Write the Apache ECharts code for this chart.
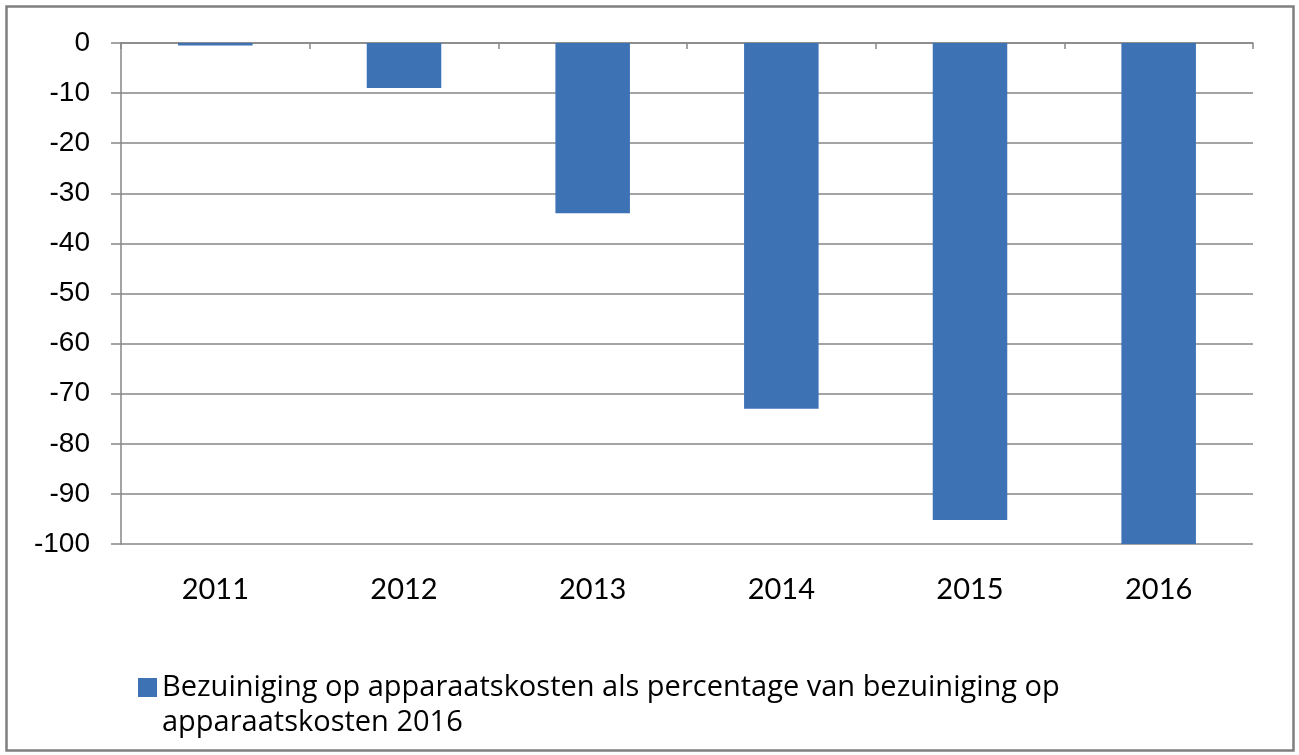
<!DOCTYPE html>
<html>
<head>
<meta charset="utf-8">
<script src="https://cdn.jsdelivr.net/npm/echarts@6/dist/echarts.min.js"></script>
<style>
  html, body { margin: 0; padding: 0; background: #fff; }
  #main { width: 1299px; height: 755px; }
</style>
</head>
<body>
<div id="main"></div>
<script>
const years = ['2011', '2012', '2013', '2014', '2015', '2016']
const savings = [-0.5, -9, -34, -73, -95.2, -100]
const seriesName = 'Bezuiniging op apparaatskosten als percentage van bezuiniging op apparaatskosten 2016'
const yTicks = { min: -100, max: 0, step: 10 }

const chart = echarts.init(document.getElementById('main'))
const axisGray = '#868686'

const option = {
    animation: false,
    backgroundColor: '#fff',
    graphic: [{
        type: 'rect',
        left: 4,
        top: 4,
        shape: { width: 1287, height: 744 },
        style: { fill: 'none', stroke: '#7f7f7f', lineWidth: 2.5 },
        silent: true
    }],
    grid: { left: 121, right: 46, top: 43, bottom: 211 },
    legend: {
        left: 133,
        top: 630,
        itemWidth: 19,
        itemHeight: 19,
        itemGap: 0,
        icon: 'rect',
        // blank first line keeps the marker level with the first text line
        formatter: (name) => '\n' + name.replace(/ (apparaatskosten 2016)$/, '\n$1'),
        textStyle: {
            fontFamily: 'Open Sans',
            fontSize: 29,
            color: '#000',
            lineHeight: 35,
            padding: [0, 0, 0, 0]
        },
        data: [seriesName]
    },
    xAxis: [
        {
            type: 'category',
            data: years,
            position: 'top',
            axisLine: { onZero: false, lineStyle: { color: axisGray, width: 1.5 } },
            axisTick: { show: true, inside: true, length: 6, lineStyle: { color: axisGray, width: 1.5 } },
            axisLabel: { show: false }
        },
        {
            type: 'category',
            data: years,
            position: 'bottom',
            axisLine: { show: false, onZero: false },
            axisTick: { show: false },
            axisLabel: {
                margin: 31,
                fontFamily: 'Lato',
                fontSize: 29,
                color: '#000'
            }
        }
    ],
    yAxis: {
        type: 'value',
        min: yTicks.min,
        max: yTicks.max,
        interval: yTicks.step,
        axisLine: { show: true, lineStyle: { color: axisGray, width: 1.5 } },
        axisTick: { show: true, length: 10, lineStyle: { color: axisGray, width: 1.5 } },
        splitLine: { show: true, lineStyle: { color: axisGray, width: 1.5 } },
        axisLabel: {
            margin: 31,
            fontFamily: 'Liberation Sans',
            fontSize: 28,
            color: '#000'
        }
    },
    series: [{
        name: seriesName,
        type: 'bar',
        xAxisIndex: 1,
        data: savings,
        barWidth: '39.5%',
        itemStyle: { color: '#3d72b5' }
    }]
}

chart.setOption(option)
</script>
</body>
</html>
